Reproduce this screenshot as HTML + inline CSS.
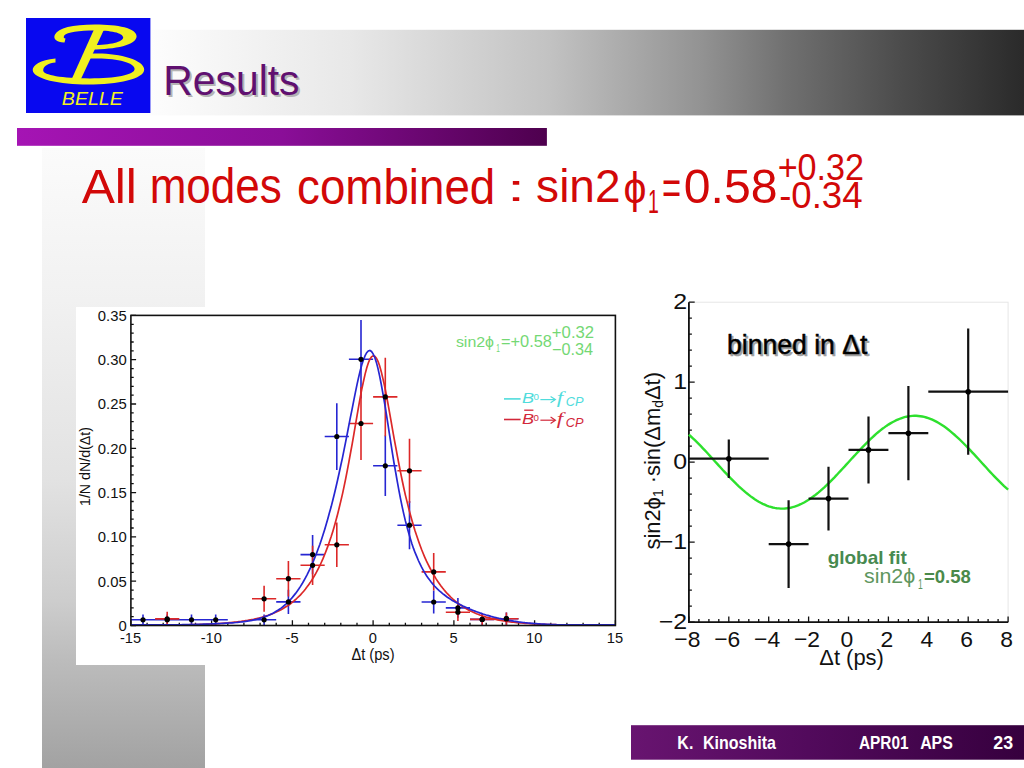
<!DOCTYPE html>
<html><head><meta charset="utf-8"><title>Results</title><style>
html,body{margin:0;padding:0;background:#fff;}
body{width:1024px;height:768px;position:relative;overflow:hidden;}
</style></head><body>
<svg width="1024" height="768" style="position:absolute;left:0;top:0"><defs><linearGradient id="gtop" x1="0" x2="1" y1="0" y2="0"><stop offset="0" stop-color="#fff"/><stop offset="0.1242" stop-color="#fdfdfd"/><stop offset="0.3246" stop-color="#e8e8e8"/><stop offset="0.5251" stop-color="#c2c2c2"/><stop offset="0.6754" stop-color="#939393"/><stop offset="0.7625" stop-color="#707070"/><stop offset="0.8758" stop-color="#4c4c4c"/><stop offset="1.0000" stop-color="#2a2a2a"/></linearGradient><linearGradient id="gpur" x1="0" x2="1" y1="0" y2="0"><stop offset="0" stop-color="#a514b4"/><stop offset="0.5" stop-color="#8a0e98"/><stop offset="1" stop-color="#4e004e"/></linearGradient><linearGradient id="gv" x1="0" x2="0" y1="0" y2="1"><stop offset="0" stop-color="#fbfbfb"/><stop offset="0.245" stop-color="#f1f1f1"/><stop offset="0.535" stop-color="#e2e2e2"/><stop offset="0.73" stop-color="#cdcdcd"/><stop offset="0.826" stop-color="#bcbcbc"/><stop offset="1" stop-color="#a2a2a2"/></linearGradient><linearGradient id="gfoot" x1="0" x2="1" y1="0" y2="0"><stop offset="0" stop-color="#681470"/><stop offset="0.45" stop-color="#520a5c"/><stop offset="1" stop-color="#36003e"/></linearGradient></defs><rect id="bg_top" x="26" y="29.8" width="998" height="85.6" fill="url(#gtop)"/><rect id="bg_pur" x="17" y="128" width="529.9" height="17.8" fill="url(#gpur)"/><rect id="bg_v" x="42" y="148" width="163" height="620" fill="url(#gv)"/><rect id="bg_foot" x="631" y="725.2" width="393" height="34.5" fill="url(#gfoot)"/><rect x="26" y="18" width="124.4" height="95" fill="#0808f0"/>
<g fill="#f0f020">
<path d="M64.5,42.4 C57,42.6 52.6,39 55,34.5 C58.5,28 72,24.4 95,24.4 C118,24.4 136.6,28 136.6,36.2 C136.6,45 115,49.4 92,49.4 L93,45.2 C110,45.2 123.2,42 123.2,37.6 C123.2,32.4 110,30.4 95,30.4 C79,30.4 67,32 64.4,35.2 C63,37.4 64,38.4 65.5,38.6 Z"/>
<path d="M55.5,58.4 C40,60 32.6,65 32.7,70 C33,79 60,84.6 88,84.6 C118,84.6 144.2,79 144.2,69.5 C144.2,60 120,53.4 98,53.4 L86,53.4 L85,58.6 L98,58.6 C118,58.6 134.6,63 134.6,69 C134.6,75 115,78.4 90,78.4 C62,78.4 43.2,75 43.2,70.5 C43.2,66 49,63 55.5,62.6 Z"/>
<path d="M95.1,27 L105.2,27 L80.5,80 L71.3,80 Z"/>
</g><g font-family="Liberation Sans, Arial, sans-serif"><text id="belle" class="tx" x="61.89" y="105.28" font-size="18.53" textLength="60.92" lengthAdjust="spacingAndGlyphs" fill="#f2f21e" font-style="italic">BELLE</text></g><rect x="76" y="307" width="548" height="358" fill="#fff"/><path d="M130.9,625.5h5.2M130.9,616.6h2.8M130.9,607.8h2.8M130.9,598.9h2.8M130.9,590.1h2.8M130.9,581.2h5.2M130.9,572.3h2.8M130.9,563.5h2.8M130.9,554.6h2.8M130.9,545.8h2.8M130.9,536.9h5.2M130.9,528.0h2.8M130.9,519.2h2.8M130.9,510.3h2.8M130.9,501.5h2.8M130.9,492.6h5.2M130.9,483.7h2.8M130.9,474.9h2.8M130.9,466.0h2.8M130.9,457.2h2.8M130.9,448.3h5.2M130.9,439.4h2.8M130.9,430.6h2.8M130.9,421.7h2.8M130.9,412.9h2.8M130.9,404.0h5.2M130.9,395.1h2.8M130.9,386.3h2.8M130.9,377.4h2.8M130.9,368.6h2.8M130.9,359.7h5.2M130.9,350.8h2.8M130.9,342.0h2.8M130.9,333.1h2.8M130.9,324.3h2.8M130.9,315.4h5.2M130.9,625.5v-5.2M147.1,625.5v-2.8M163.2,625.5v-2.8M179.3,625.5v-2.8M195.5,625.5v-2.8M211.6,625.5v-5.2M227.8,625.5v-2.8M243.9,625.5v-2.8M260.1,625.5v-2.8M276.2,625.5v-2.8M292.4,625.5v-5.2M308.5,625.5v-2.8M324.7,625.5v-2.8M340.8,625.5v-2.8M357.0,625.5v-2.8M373.1,625.5v-5.2M389.3,625.5v-2.8M405.4,625.5v-2.8M421.6,625.5v-2.8M437.8,625.5v-2.8M453.9,625.5v-5.2M470.0,625.5v-2.8M486.2,625.5v-2.8M502.3,625.5v-2.8M518.5,625.5v-2.8M534.6,625.5v-5.2M550.8,625.5v-2.8M566.9,625.5v-2.8M583.1,625.5v-2.8M599.2,625.5v-2.8M615.4,625.5v-5.2" stroke="#111" stroke-width="1.3" fill="none"/><path d="M130.9,619.8H155.1M143.0,614.4V625.1M155.1,619.8H179.3M167.2,614.4V625.1M179.3,619.8H203.6M191.5,614.4V625.1M203.6,619.8H227.8M215.7,614.4V625.1M252.0,619.8H276.2M264.1,614.4V625.1M276.2,601.9H300.5M288.4,589.7V614.1M300.5,554.6H324.7M312.6,535.0V574.3M324.7,436.5H348.9M336.8,403.2V469.9M348.9,359.3H373.1M361.0,320.0V398.5M373.1,465.8H397.4M385.3,435.5V496.1M397.4,525.2H421.6M409.5,501.1V549.3M421.6,602.0H445.8M433.7,590.4V613.6M445.8,607.9H470.0M457.9,598.1V617.7M470.0,619.4H494.3M482.2,613.2V625.5M494.3,618.7H518.5M506.4,612.4V624.9" stroke="#2626d2" stroke-width="1.6" fill="none"/><path d="M155.1,618.9H179.3M167.2,611.7V625.5M252.0,598.8H276.2M264.1,585.8V611.8M276.2,578.7H300.5M288.4,560.9V596.6M300.5,565.3H324.7M312.6,545.7V585.0M324.7,544.8H348.9M336.8,522.5V567.1M348.9,423.5H373.1M361.0,386.9V460.1M373.1,396.9H397.4M385.3,357.7V436.2M397.4,470.8H421.6M409.5,438.7V502.9M421.6,571.9H445.8M433.7,553.1V590.6M445.8,612.2H470.0M457.9,603.3V621.1M470.0,619.4H494.3M482.2,613.2V625.5M494.3,618.7H518.5M506.4,612.4V624.9" stroke="#dc2828" stroke-width="1.6" fill="none"/><polyline points="130.9,624.9 132.5,624.9 134.1,624.9 135.7,624.9 137.4,624.9 139.0,624.9 140.6,624.9 142.2,624.9 143.8,624.9 145.4,624.9 147.1,624.9 148.7,624.9 150.3,624.9 151.9,624.9 153.5,624.9 155.1,624.9 156.7,624.9 158.4,624.9 160.0,624.9 161.6,624.9 163.2,624.9 164.8,624.9 166.4,624.9 168.0,624.9 169.7,624.9 171.3,624.9 172.9,624.9 174.5,624.9 176.1,624.9 177.7,624.9 179.3,624.9 181.0,624.9 182.6,624.9 184.2,624.9 185.8,624.9 187.4,624.8 189.0,624.8 190.7,624.7 192.3,624.7 193.9,624.7 195.5,624.6 197.1,624.6 198.7,624.5 200.3,624.4 202.0,624.4 203.6,624.3 205.2,624.3 206.8,624.2 208.4,624.1 210.0,624.0 211.6,624.0 213.3,623.9 214.9,623.8 216.5,623.7 218.1,623.6 219.7,623.5 221.3,623.4 223.0,623.3 224.6,623.1 226.2,623.0 227.8,622.9 229.4,622.7 231.0,622.6 232.6,622.4 234.3,622.2 235.9,622.1 237.5,621.9 239.1,621.7 240.7,621.5 242.3,621.2 243.9,621.0 245.6,620.7 247.2,620.5 248.8,620.2 250.4,619.9 252.0,619.6 253.6,619.3 255.3,618.9 256.9,618.5 258.5,618.2 260.1,617.7 261.7,617.3 263.3,616.8 264.9,616.4 266.6,615.8 268.2,615.3 269.8,614.7 271.4,614.1 273.0,613.5 274.6,612.8 276.2,612.1 277.9,611.3 279.5,610.5 281.1,609.7 282.7,608.8 284.3,607.8 285.9,606.8 287.6,605.8 289.2,604.7 290.8,603.5 292.4,602.2 294.0,600.9 295.6,599.5 297.2,598.0 298.9,596.4 300.5,594.8 302.1,593.0 303.7,591.2 305.3,589.2 306.9,587.1 308.5,584.9 310.2,582.6 311.8,580.1 313.4,577.5 315.0,574.8 316.6,571.9 318.2,568.8 319.9,565.5 321.5,562.0 323.1,558.4 324.7,554.5 326.3,550.4 327.9,546.1 329.5,541.5 331.2,536.6 332.8,531.5 334.4,526.1 336.0,520.3 337.6,514.2 339.2,507.8 340.8,501.1 342.5,493.9 344.1,486.4 345.7,478.6 347.3,470.4 348.9,461.8 350.5,453.0 352.2,443.9 353.8,434.6 355.4,425.2 357.0,415.8 358.6,406.6 360.2,397.6 361.8,389.1 363.5,381.2 365.1,374.1 366.7,368.0 368.3,363.0 369.9,359.2 371.5,356.8 373.1,355.8 374.8,356.2 376.4,358.1 378.0,361.3 379.6,365.8 381.2,371.4 382.8,378.1 384.5,385.5 386.1,393.6 387.7,402.2 389.3,411.1 390.9,420.2 392.5,429.3 394.1,438.4 395.8,447.4 397.4,456.1 399.0,464.5 400.6,472.7 402.2,480.5 403.8,488.0 405.4,495.1 407.1,501.9 408.7,508.4 410.3,514.5 411.9,520.3 413.5,525.8 415.1,531.1 416.8,536.1 418.4,540.8 420.0,545.2 421.6,549.5 423.2,553.5 424.8,557.3 426.4,560.9 428.1,564.3 429.7,567.5 431.3,570.6 432.9,573.5 434.5,576.3 436.1,578.9 437.8,581.4 439.4,583.7 441.0,585.9 442.6,588.0 444.2,590.0 445.8,591.9 447.4,593.7 449.1,595.4 450.7,597.0 452.3,598.5 453.9,600.0 455.5,601.3 457.1,602.6 458.7,603.8 460.4,605.0 462.0,606.1 463.6,607.1 465.2,608.1 466.8,609.1 468.4,609.9 470.0,610.8 471.7,611.6 473.3,612.3 474.9,613.0 476.5,613.7 478.1,614.3 479.7,615.0 481.4,615.5 483.0,616.1 484.6,616.6 486.2,617.1 487.8,617.5 489.4,617.9 491.0,618.4 492.7,618.7 494.3,619.1 495.9,619.5 497.5,619.8 499.1,620.1 500.7,620.4 502.3,620.7 504.0,620.9 505.6,621.2 507.2,621.4 508.8,621.6 510.4,621.9 512.0,622.1 513.7,622.2 515.3,622.4 516.9,622.6 518.5,622.7 520.1,622.9 521.7,623.0 523.3,623.2 525.0,623.3 526.6,623.4 528.2,623.5 529.8,623.6 531.4,623.7 533.0,623.8 534.6,623.9 536.3,624.0 537.9,624.1 539.5,624.2 541.1,624.3 542.7,624.3 544.3,624.4 546.0,624.4 547.6,624.5 549.2,624.6 550.8,624.6 552.4,624.7 554.0,624.7 555.6,624.7 557.3,624.8 558.9,624.8 560.5,624.9 562.1,624.9 563.7,624.9 565.3,624.9 566.9,624.9 568.6,624.9 570.2,624.9 571.8,624.9 573.4,624.9 575.0,624.9 576.6,624.9 578.3,624.9 579.9,624.9 581.5,624.9 583.1,624.9 584.7,624.9 586.3,624.9 587.9,624.9 589.6,624.9 591.2,624.9 592.8,624.9 594.4,624.9 596.0,624.9 597.6,624.9 599.2,624.9 600.9,624.9 602.5,624.9 604.1,624.9 605.7,624.9 607.3,624.9 608.9,624.9 610.6,624.9 612.2,624.9 613.8,624.9 615.4,624.9" fill="none" stroke="#dc2828" stroke-width="1.7"/><polyline points="130.9,624.9 132.5,624.9 134.1,624.9 135.7,624.9 137.4,624.9 139.0,624.9 140.6,624.9 142.2,624.9 143.8,624.9 145.4,624.9 147.1,624.9 148.7,624.9 150.3,624.9 151.9,624.9 153.5,624.9 155.1,624.9 156.7,624.9 158.4,624.9 160.0,624.9 161.6,624.9 163.2,624.9 164.8,624.9 166.4,624.9 168.0,624.9 169.7,624.9 171.3,624.9 172.9,624.9 174.5,624.9 176.1,624.9 177.7,624.8 179.3,624.8 181.0,624.8 182.6,624.7 184.2,624.7 185.8,624.7 187.4,624.6 189.0,624.6 190.7,624.6 192.3,624.5 193.9,624.5 195.5,624.4 197.1,624.4 198.7,624.4 200.3,624.3 202.0,624.3 203.6,624.2 205.2,624.2 206.8,624.1 208.4,624.1 210.0,624.0 211.6,623.9 213.3,623.9 214.9,623.8 216.5,623.7 218.1,623.7 219.7,623.6 221.3,623.5 223.0,623.4 224.6,623.3 226.2,623.2 227.8,623.1 229.4,623.0 231.0,622.9 232.6,622.8 234.3,622.7 235.9,622.5 237.5,622.4 239.1,622.2 240.7,622.0 242.3,621.8 243.9,621.6 245.6,621.4 247.2,621.1 248.8,620.9 250.4,620.6 252.0,620.3 253.6,619.9 255.3,619.6 256.9,619.2 258.5,618.8 260.1,618.3 261.7,617.8 263.3,617.3 264.9,616.7 266.6,616.1 268.2,615.5 269.8,614.7 271.4,614.0 273.0,613.2 274.6,612.3 276.2,611.3 277.9,610.3 279.5,609.2 281.1,608.1 282.7,606.8 284.3,605.5 285.9,604.1 287.6,602.5 289.2,600.9 290.8,599.2 292.4,597.4 294.0,595.4 295.6,593.4 297.2,591.2 298.9,588.8 300.5,586.4 302.1,583.8 303.7,581.0 305.3,578.1 306.9,575.1 308.5,571.9 310.2,568.5 311.8,564.9 313.4,561.1 315.0,557.2 316.6,553.1 318.2,548.8 319.9,544.2 321.5,539.5 323.1,534.6 324.7,529.4 326.3,524.0 327.9,518.4 329.5,512.6 331.2,506.6 332.8,500.3 334.4,493.7 336.0,487.0 337.6,480.0 339.2,472.7 340.8,465.3 342.5,457.6 344.1,449.7 345.7,441.7 347.3,433.5 348.9,425.2 350.5,416.9 352.2,408.6 353.8,400.4 355.4,392.4 357.0,384.7 358.6,377.4 360.2,370.8 361.8,364.8 363.5,359.8 365.1,355.7 366.7,352.7 368.3,351.0 369.9,350.5 371.5,351.5 373.1,353.8 374.8,357.5 376.4,362.4 378.0,368.6 379.6,375.8 381.2,384.0 382.8,392.9 384.5,402.5 386.1,412.5 387.7,422.7 389.3,433.1 390.9,443.4 392.5,453.6 394.1,463.5 395.8,473.0 397.4,482.2 399.0,490.9 400.6,499.1 402.2,506.9 403.8,514.1 405.4,520.9 407.1,527.3 408.7,533.1 410.3,538.6 411.9,543.7 413.5,548.4 415.1,552.7 416.8,556.7 418.4,560.5 420.0,563.9 421.6,567.2 423.2,570.1 424.8,572.9 426.4,575.5 428.1,577.9 429.7,580.1 431.3,582.2 432.9,584.1 434.5,586.0 436.1,587.7 437.8,589.3 439.4,590.8 441.0,592.2 442.6,593.6 444.2,594.8 445.8,596.0 447.4,597.2 449.1,598.3 450.7,599.4 452.3,600.4 453.9,601.3 455.5,602.2 457.1,603.1 458.7,604.0 460.4,604.8 462.0,605.6 463.6,606.4 465.2,607.1 466.8,607.8 468.4,608.5 470.0,609.2 471.7,609.9 473.3,610.5 474.9,611.1 476.5,611.7 478.1,612.3 479.7,612.9 481.4,613.4 483.0,614.0 484.6,614.5 486.2,615.0 487.8,615.4 489.4,615.9 491.0,616.4 492.7,616.8 494.3,617.2 495.9,617.6 497.5,618.0 499.1,618.4 500.7,618.7 502.3,619.1 504.0,619.4 505.6,619.7 507.2,620.0 508.8,620.3 510.4,620.6 512.0,620.9 513.7,621.2 515.3,621.4 516.9,621.6 518.5,621.9 520.1,622.1 521.7,622.3 523.3,622.5 525.0,622.7 526.6,622.8 528.2,623.0 529.8,623.1 531.4,623.3 533.0,623.4 534.6,623.6 536.3,623.7 537.9,623.8 539.5,623.9 541.1,624.0 542.7,624.1 544.3,624.2 546.0,624.3 547.6,624.4 549.2,624.4 550.8,624.5 552.4,624.6 554.0,624.6 555.6,624.7 557.3,624.8 558.9,624.8 560.5,624.9 562.1,624.9 563.7,624.9 565.3,624.9 566.9,624.9 568.6,624.9 570.2,624.9 571.8,624.9 573.4,624.9 575.0,624.9 576.6,624.9 578.3,624.9 579.9,624.9 581.5,624.9 583.1,624.9 584.7,624.9 586.3,624.9 587.9,624.9 589.6,624.9 591.2,624.9 592.8,624.9 594.4,624.9 596.0,624.9 597.6,624.9 599.2,624.9 600.9,624.9 602.5,624.9 604.1,624.9 605.7,624.9 607.3,624.9 608.9,624.9 610.6,624.9 612.2,624.9 613.8,624.9 615.4,624.9" fill="none" stroke="#2626d2" stroke-width="1.7"/><g fill="#000"><circle cx="143.0" cy="619.8" r="2.6"/><circle cx="167.2" cy="619.8" r="2.6"/><circle cx="191.5" cy="619.8" r="2.6"/><circle cx="215.7" cy="619.8" r="2.6"/><circle cx="264.1" cy="619.8" r="2.6"/><circle cx="288.4" cy="601.9" r="2.6"/><circle cx="312.6" cy="554.6" r="2.6"/><circle cx="336.8" cy="436.5" r="2.6"/><circle cx="361.0" cy="359.3" r="2.6"/><circle cx="385.3" cy="465.8" r="2.6"/><circle cx="409.5" cy="525.2" r="2.6"/><circle cx="433.7" cy="602.0" r="2.6"/><circle cx="457.9" cy="607.9" r="2.6"/><circle cx="482.2" cy="619.4" r="2.6"/><circle cx="506.4" cy="618.7" r="2.6"/><circle cx="167.2" cy="618.9" r="2.6"/><circle cx="264.1" cy="598.8" r="2.6"/><circle cx="288.4" cy="578.7" r="2.6"/><circle cx="312.6" cy="565.3" r="2.6"/><circle cx="336.8" cy="544.8" r="2.6"/><circle cx="361.0" cy="423.5" r="2.6"/><circle cx="385.3" cy="396.9" r="2.6"/><circle cx="409.5" cy="470.8" r="2.6"/><circle cx="433.7" cy="571.9" r="2.6"/><circle cx="457.9" cy="612.2" r="2.6"/><circle cx="482.2" cy="619.4" r="2.6"/><circle cx="506.4" cy="618.7" r="2.6"/></g><rect x="130.9" y="315.4" width="484.5" height="310.1" fill="none" stroke="#111" stroke-width="1.6"/><g font-family="Liberation Sans, Arial, sans-serif" fill="#111"><text x="0" y="0" font-size="15.25" text-anchor="end" transform="translate(126.73,630.88) scale(0.9737,1)">0</text><text x="0" y="0" font-size="15.25" text-anchor="end" transform="translate(126.73,586.58) scale(0.9737,1)">0.05</text><text x="0" y="0" font-size="15.25" text-anchor="end" transform="translate(126.73,542.28) scale(0.9737,1)">0.10</text><text x="0" y="0" font-size="15.25" text-anchor="end" transform="translate(126.73,497.98) scale(0.9737,1)">0.15</text><text x="0" y="0" font-size="15.25" text-anchor="end" transform="translate(126.73,453.68) scale(0.9737,1)">0.20</text><text x="0" y="0" font-size="15.25" text-anchor="end" transform="translate(126.73,409.38) scale(0.9737,1)">0.25</text><text x="0" y="0" font-size="15.25" text-anchor="end" transform="translate(126.73,365.08) scale(0.9737,1)">0.30</text><text x="0" y="0" font-size="15.24" text-anchor="middle" transform="translate(211.26,643.23) scale(0.9617,1)">-10</text><text x="0" y="0" font-size="15.24" text-anchor="middle" transform="translate(292.01,643.23) scale(0.9617,1)">-5</text><text x="0" y="0" font-size="15.24" text-anchor="middle" transform="translate(372.76,643.23) scale(0.9617,1)">0</text><text x="0" y="0" font-size="15.24" text-anchor="middle" transform="translate(453.51,643.23) scale(0.9617,1)">5</text><text x="0" y="0" font-size="15.24" text-anchor="middle" transform="translate(534.26,643.23) scale(0.9617,1)">10</text><text x="0" y="0" font-size="15.24" text-anchor="middle" transform="translate(615.01,643.23) scale(0.9617,1)">15</text></g><g font-family="Liberation Sans, Arial, sans-serif"><text id="l_y35" class="tx" x="97.85" y="320.78" font-size="15.25" textLength="28.88" lengthAdjust="spacingAndGlyphs" fill="#111">0.35</text><text id="l_x15" class="tx" x="119.92" y="643.23" font-size="15.24" textLength="21.19" lengthAdjust="spacingAndGlyphs" fill="#111">-15</text><text id="l_xt" class="tx" x="351.41" y="660.29" font-size="15.74" textLength="43.16" lengthAdjust="spacingAndGlyphs" fill="#111">Δt (ps)</text></g><text transform="translate(89.6,466.5) rotate(-90)" text-anchor="middle" font-family="Liberation Sans, Arial, sans-serif" font-size="14" textLength="79" lengthAdjust="spacingAndGlyphs" fill="#111">1/N dN/d(Δt)</text><g font-family="Liberation Sans, Arial, sans-serif"><text id="lg1" class="tx" x="455.91" y="346.94" font-size="15.55" textLength="38.14" lengthAdjust="spacingAndGlyphs" fill="#74d874">sin2ϕ</text><text id="lg2" class="tx" x="496.32" y="352.00" font-size="10.98" textLength="3.68" lengthAdjust="spacingAndGlyphs" fill="#74d874">1</text><text id="lg3" class="tx" x="500.98" y="346.69" font-size="15.90" textLength="50.93" lengthAdjust="spacingAndGlyphs" fill="#74d874">=+0.58</text><text id="lg4" class="tx" x="551.87" y="338.42" font-size="15.81" textLength="42.22" lengthAdjust="spacingAndGlyphs" fill="#74d874">+0.32</text><text id="lg5" class="tx" x="551.93" y="355.25" font-size="16.03" textLength="41.07" lengthAdjust="spacingAndGlyphs" fill="#74d874">−0.34</text></g><g font-family="Liberation Sans, Arial, sans-serif"><line x1="504" y1="398.9" x2="520.6" y2="398.9" stroke="#50dcdc" stroke-width="1.6"/><text id="lb1" class="tx" x="521.97" y="403.27" font-size="14.87" textLength="12.10" lengthAdjust="spacingAndGlyphs" fill="#50dcdc" font-style="italic">B</text><text id="l01" class="tx" x="533.48" y="400.00" font-size="9.53" textLength="5.43" lengthAdjust="spacingAndGlyphs" fill="#50dcdc">0</text><text id="lf1" class="tx" x="556.68" y="403.30" font-size="16.82" textLength="6.38" lengthAdjust="spacingAndGlyphs" fill="#50dcdc" font-style="italic" font-family="Liberation Serif, serif">f</text><text id="lcp1" class="tx" x="565.83" y="406.14" font-size="11.98" textLength="17.74" lengthAdjust="spacingAndGlyphs" fill="#50dcdc" font-style="italic">CP</text><line x1="540.4" y1="399.6" x2="555" y2="399.6" stroke="#50dcdc" stroke-width="1.2"/><path d="M550.6,396.4L555.4,399.6L550.6,402.8" stroke="#50dcdc" stroke-width="1.2" fill="none"/><line x1="504" y1="419.5" x2="520.6" y2="419.5" stroke="#d2283a" stroke-width="1.6"/><text id="r2_lb1" class="tx" x="521.97" y="423.87" font-size="14.87" textLength="12.10" lengthAdjust="spacingAndGlyphs" fill="#d2283a" font-style="italic">B</text><text id="r2_l01" class="tx" x="533.48" y="420.60" font-size="9.53" textLength="5.43" lengthAdjust="spacingAndGlyphs" fill="#d2283a">0</text><text id="r2_lf1" class="tx" x="556.68" y="423.90" font-size="16.82" textLength="6.38" lengthAdjust="spacingAndGlyphs" fill="#d2283a" font-style="italic" font-family="Liberation Serif, serif">f</text><text id="r2_lcp1" class="tx" x="565.83" y="426.74" font-size="11.98" textLength="17.74" lengthAdjust="spacingAndGlyphs" fill="#d2283a" font-style="italic">CP</text><line x1="540.4" y1="420.2" x2="555" y2="420.2" stroke="#d2283a" stroke-width="1.2"/><path d="M550.6,417.0L555.4,420.2L550.6,423.4" stroke="#d2283a" stroke-width="1.2" fill="none"/><line x1="524.2" y1="410.2" x2="533.4" y2="410.2" stroke="#d2283a" stroke-width="1.3"/></g><rect x="688.9" y="302.2" width="319.2" height="320.0" fill="none" stroke="#e6e6e6" stroke-width="1"/><path d="M688.9,622.2h5.8M688.9,606.2h3.0M688.9,590.2h3.0M688.9,574.2h3.0M688.9,558.2h3.0M688.9,542.2h5.8M688.9,526.2h3.0M688.9,510.2h3.0M688.9,494.2h3.0M688.9,478.2h3.0M688.9,462.2h5.8M688.9,446.2h3.0M688.9,430.2h3.0M688.9,414.2h3.0M688.9,398.2h3.0M688.9,382.2h5.8M688.9,366.2h3.0M688.9,350.2h3.0M688.9,334.2h3.0M688.9,318.2h3.0M688.9,302.2h5.8M688.9,622.2v-5.8M698.9,622.2v-3.2M708.9,622.2v-3.2M718.8,622.2v-3.2M728.8,622.2v-5.8M738.8,622.2v-3.2M748.8,622.2v-3.2M758.7,622.2v-3.2M768.7,622.2v-5.8M778.7,622.2v-3.2M788.6,622.2v-3.2M798.6,622.2v-3.2M808.6,622.2v-5.8M818.6,622.2v-3.2M828.5,622.2v-3.2M838.5,622.2v-3.2M848.5,622.2v-5.8M858.5,622.2v-3.2M868.5,622.2v-3.2M878.4,622.2v-3.2M888.4,622.2v-5.8M898.4,622.2v-3.2M908.4,622.2v-3.2M918.3,622.2v-3.2M928.3,622.2v-5.8M938.3,622.2v-3.2M948.2,622.2v-3.2M958.2,622.2v-3.2M968.2,622.2v-5.8M978.2,622.2v-3.2M988.1,622.2v-3.2M998.1,622.2v-3.2M1008.1,622.2v-5.8" stroke="#111" stroke-width="1.3" fill="none"/><path d="M688.9,302.2V622.2H1008.1" stroke="#111" stroke-width="1.8" fill="none"/><polyline points="688.9,434.7 690.9,436.5 692.9,438.3 694.9,440.2 696.9,442.2 698.9,444.2 700.9,446.2 702.9,448.3 704.9,450.4 706.9,452.5 708.9,454.7 710.8,456.9 712.8,459.0 714.8,461.2 716.8,463.4 718.8,465.6 720.8,467.8 722.8,470.0 724.8,472.1 726.8,474.2 728.8,476.3 730.8,478.4 732.8,480.4 734.8,482.4 736.8,484.4 738.8,486.3 740.8,488.1 742.8,489.9 744.8,491.6 746.8,493.3 748.8,494.9 750.7,496.4 752.7,497.8 754.7,499.2 756.7,500.5 758.7,501.7 760.7,502.8 762.7,503.8 764.7,504.7 766.7,505.6 768.7,506.3 770.7,506.9 772.7,507.5 774.7,507.9 776.7,508.2 778.7,508.4 780.7,508.6 782.7,508.6 784.7,508.5 786.7,508.3 788.6,508.0 790.6,507.7 792.6,507.2 794.6,506.6 796.6,505.9 798.6,505.1 800.6,504.2 802.6,503.2 804.6,502.2 806.6,501.0 808.6,499.8 810.6,498.5 812.6,497.0 814.6,495.6 816.6,494.0 818.6,492.4 820.6,490.7 822.6,488.9 824.6,487.1 826.6,485.2 828.5,483.3 830.5,481.3 832.5,479.3 834.5,477.3 836.5,475.2 838.5,473.0 840.5,470.9 842.5,468.7 844.5,466.6 846.5,464.4 848.5,462.2 850.5,460.0 852.5,457.8 854.5,455.7 856.5,453.5 858.5,451.4 860.5,449.2 862.5,447.1 864.5,445.1 866.5,443.1 868.5,441.1 870.4,439.2 872.4,437.3 874.4,435.5 876.4,433.7 878.4,432.0 880.4,430.4 882.4,428.8 884.4,427.4 886.4,425.9 888.4,424.6 890.4,423.4 892.4,422.2 894.4,421.2 896.4,420.2 898.4,419.3 900.4,418.5 902.4,417.8 904.4,417.2 906.4,416.7 908.4,416.4 910.3,416.1 912.3,415.9 914.3,415.8 916.3,415.8 918.3,416.0 920.3,416.2 922.3,416.5 924.3,416.9 926.3,417.5 928.3,418.1 930.3,418.8 932.3,419.7 934.3,420.6 936.3,421.6 938.3,422.7 940.3,423.9 942.3,425.2 944.3,426.6 946.3,428.0 948.2,429.5 950.2,431.1 952.2,432.8 954.2,434.5 956.2,436.3 958.2,438.1 960.2,440.0 962.2,442.0 964.2,444.0 966.2,446.0 968.2,448.1 970.2,450.2 972.2,452.3 974.2,454.4 976.2,456.6 978.2,458.8 980.2,461.0 982.2,463.2 984.2,465.4 986.2,467.5 988.1,469.7 990.1,471.9 992.1,474.0 994.1,476.1 996.1,478.2 998.1,480.2 1000.1,482.2 1002.1,484.2 1004.1,486.1 1006.1,487.9 1008.1,489.7" fill="none" stroke="#2ee02e" stroke-width="2.4"/><path d="M688.9,458.7H768.7M728.8,439.6V477.9M768.7,544.1H808.6M788.6,500.2V588.0M808.6,498.6H848.5M828.5,466.7V530.5M848.5,449.9H888.4M868.5,416.4V483.4M888.4,433.2H928.3M908.4,386.1V480.3M928.3,391.7H1008.1M968.2,328.6V454.7" stroke="#111" stroke-width="2.2" fill="none"/><g fill="#000"><circle cx="728.8" cy="458.7" r="2.8"/><circle cx="788.6" cy="544.1" r="2.8"/><circle cx="828.5" cy="498.6" r="2.8"/><circle cx="868.5" cy="449.9" r="2.8"/><circle cx="908.4" cy="433.2" r="2.8"/><circle cx="968.2" cy="391.7" r="2.8"/></g><g font-family="Liberation Sans, Arial, sans-serif" fill="#111"><text x="0" y="0" font-size="21.78" text-anchor="end" transform="translate(687.23,389.00) scale(1.1455,1)">1</text><text x="0" y="0" font-size="21.78" text-anchor="end" transform="translate(687.23,469.00) scale(1.1455,1)">0</text><text x="0" y="0" font-size="21.78" text-anchor="end" transform="translate(687.23,549.00) scale(1.1455,1)">−1</text><text x="0" y="0" font-size="21.78" text-anchor="end" transform="translate(687.23,629.00) scale(1.1455,1)">−2</text><text x="0" y="0" font-size="22.85" text-anchor="middle" transform="translate(687.34,646.64) scale(1.0013,1)">−8</text><text x="0" y="0" font-size="22.85" text-anchor="middle" transform="translate(767.14,646.64) scale(1.0013,1)">−4</text><text x="0" y="0" font-size="22.85" text-anchor="middle" transform="translate(807.04,646.64) scale(1.0013,1)">−2</text><text x="0" y="0" font-size="22.85" text-anchor="middle" transform="translate(846.94,646.64) scale(1.0013,1)">0</text><text x="0" y="0" font-size="22.85" text-anchor="middle" transform="translate(886.84,646.64) scale(1.0013,1)">2</text><text x="0" y="0" font-size="22.85" text-anchor="middle" transform="translate(926.74,646.64) scale(1.0013,1)">4</text><text x="0" y="0" font-size="22.85" text-anchor="middle" transform="translate(966.64,646.64) scale(1.0013,1)">6</text><text x="0" y="0" font-size="22.85" text-anchor="middle" transform="translate(1006.54,646.64) scale(1.0013,1)">8</text><text id="r_y2" class="tx" x="673.34" y="309.00" font-size="21.78" textLength="13.88" lengthAdjust="spacingAndGlyphs" fill="#111">2</text><text id="r_x6" class="tx" x="714.20" y="646.64" font-size="22.85" textLength="26.08" lengthAdjust="spacingAndGlyphs" fill="#111">−6</text><text id="r_xt" class="tx" x="819.26" y="665.21" font-size="22.32" textLength="64.61" lengthAdjust="spacingAndGlyphs" fill="#111">Δt (ps)</text></g><g font-family="Liberation Sans, Arial, sans-serif" fill="#111" font-size="22"><text transform="translate(660.2,460.8) rotate(-90)" text-anchor="middle" textLength="177.5" lengthAdjust="spacingAndGlyphs">sin2ϕ<tspan font-size="14" dy="3">1</tspan><tspan dy="-3"> ·sin(Δm</tspan><tspan font-size="14" dy="3">d</tspan><tspan dy="-3">Δt)</tspan></text></g><g font-family="Liberation Sans, Arial, sans-serif"><text id="gf" class="tx" x="827.63" y="563.65" font-size="19.00" textLength="79.11" lengthAdjust="spacingAndGlyphs" fill="#478a50" font-weight="bold">global fit</text><text id="gs1" class="tx" x="864.06" y="583.31" font-size="19.79" textLength="51.18" lengthAdjust="spacingAndGlyphs" fill="#5e965e">sin2ϕ</text><text id="gs2" class="tx" x="917.94" y="589.00" font-size="14.96" textLength="4.76" lengthAdjust="spacingAndGlyphs" fill="#5e965e">1</text><text id="gs3" class="tx" x="923.99" y="583.21" font-size="17.86" textLength="46.87" lengthAdjust="spacingAndGlyphs" fill="#4a8a4a" font-weight="bold">=0.58</text></g><g font-family="Liberation Sans, Arial, sans-serif"><text id="sh_results" x="165.36" y="97.00" font-size="43.24" textLength="136.17" lengthAdjust="spacingAndGlyphs" fill="#b4b4b4">Results</text><text id="results" class="tx" x="163.36" y="95.00" font-size="43.24" textLength="136.17" lengthAdjust="spacingAndGlyphs" fill="#601070">Results</text><text id="m_all" class="tx" x="81.67" y="202.50" font-size="47.36" textLength="55.27" lengthAdjust="spacingAndGlyphs" fill="#d20808">All</text><text id="m_modes" class="tx" x="149.67" y="203.28" font-size="49.65" textLength="132.15" lengthAdjust="spacingAndGlyphs" fill="#d20808">modes</text><text id="m_comb" class="tx" x="297.11" y="203.58" font-size="50.41" textLength="198.11" lengthAdjust="spacingAndGlyphs" fill="#d20808">combined</text><text id="m_colon" class="tx" x="506.71" y="201.00" font-size="37.04" textLength="18.60" lengthAdjust="spacingAndGlyphs" fill="#d20808">:</text><text id="m_sin2" class="tx" x="536.13" y="202.00" font-size="45.87" textLength="84.42" lengthAdjust="spacingAndGlyphs" fill="#d20808">sin2</text><text id="m_phi" class="tx" x="623.55" y="202.54" font-size="44.31" textLength="22.97" lengthAdjust="spacingAndGlyphs" fill="#d20808">ϕ</text><text id="m_s1" class="tx" x="648.11" y="212.60" font-size="32.62" textLength="10.84" lengthAdjust="spacingAndGlyphs" fill="#d20808">1</text><text id="m_eq" class="tx" x="661.91" y="203.76" font-size="47.69" textLength="19.13" lengthAdjust="spacingAndGlyphs" fill="#d20808">=</text><text id="m_058" class="tx" x="683.83" y="202.74" font-size="48.92" textLength="93.68" lengthAdjust="spacingAndGlyphs" fill="#d20808">0.58</text><text id="m_sup" class="tx" x="777.65" y="179.54" font-size="36.46" textLength="86.44" lengthAdjust="spacingAndGlyphs" fill="#d20808">+0.32</text><text id="m_sub" class="tx" x="779.16" y="208.37" font-size="36.46" textLength="83.38" lengthAdjust="spacingAndGlyphs" fill="#d20808">-0.34</text><text id="sh_binned" x="729.00" y="355.89" font-size="26.87" textLength="140.31" lengthAdjust="spacingAndGlyphs" fill="#a0a0a0" stroke="#a0a0a0" stroke-width="0.5" stroke-linejoin="round">binned in Δt</text><text id="binned" class="tx" x="727.00" y="353.89" font-size="26.87" textLength="140.31" lengthAdjust="spacingAndGlyphs" fill="#000" stroke="#000" stroke-width="0.5" stroke-linejoin="round">binned in Δt</text><text id="f1" class="tx" x="677.36" y="748.70" font-size="19.00" textLength="15.96" lengthAdjust="spacingAndGlyphs" fill="#fff" font-weight="bold">K.</text><text id="f1b" class="tx" x="703.00" y="748.70" font-size="19.00" textLength="72.85" lengthAdjust="spacingAndGlyphs" fill="#fff" font-weight="bold">Kinoshita</text><text id="f2" class="tx" x="858.95" y="748.70" font-size="19.00" textLength="49.63" lengthAdjust="spacingAndGlyphs" fill="#fff" font-weight="bold">APR01</text><text id="f2b" class="tx" x="920.14" y="748.70" font-size="19.00" textLength="32.73" lengthAdjust="spacingAndGlyphs" fill="#fff" font-weight="bold">APS</text><text id="f3" class="tx" x="993.32" y="748.70" font-size="19.00" textLength="19.80" lengthAdjust="spacingAndGlyphs" fill="#fff" font-weight="bold">23</text></g></svg>
</body></html>
